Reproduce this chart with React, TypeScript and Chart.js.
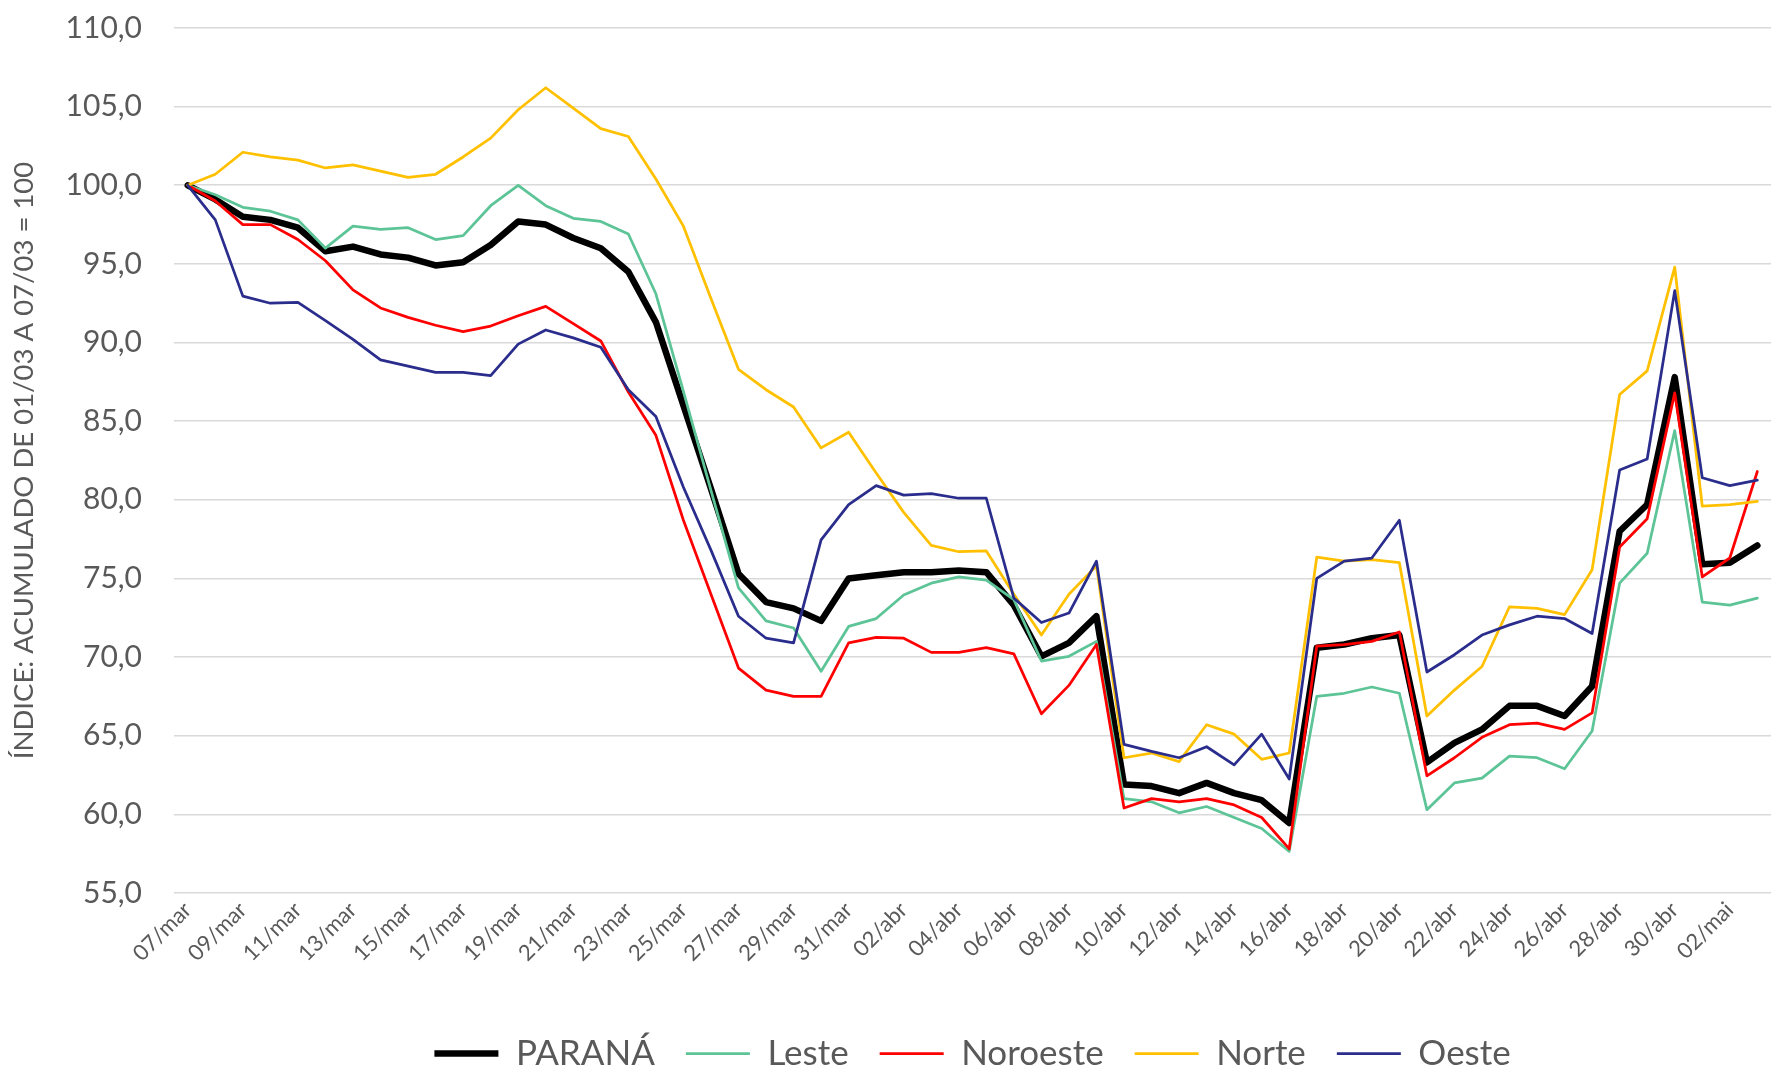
import React, { useEffect, useRef } from 'react';
import { Chart, registerables } from 'chart.js';

Chart.register(...registerables);

const dates = [
  '07/mar', '08/mar', '09/mar', '10/mar', '11/mar', '12/mar', '13/mar', '14/mar', '15/mar', '16/mar',
  '17/mar', '18/mar', '19/mar', '20/mar', '21/mar', '22/mar', '23/mar', '24/mar', '25/mar', '26/mar',
  '27/mar', '28/mar', '29/mar', '30/mar', '31/mar', '01/abr', '02/abr', '03/abr', '04/abr', '05/abr',
  '06/abr', '07/abr', '08/abr', '09/abr', '10/abr', '11/abr', '12/abr', '13/abr', '14/abr', '15/abr',
  '16/abr', '17/abr', '18/abr', '19/abr', '20/abr', '21/abr', '22/abr', '23/abr', '24/abr', '25/abr',
  '26/abr', '27/abr', '28/abr', '29/abr', '30/abr', '01/mai', '02/mai', '03/mai',
];

const parana = [
  100, 99.1, 98.0, 97.8, 97.3, 95.8, 96.1, 95.6, 95.4, 94.9,
  95.1, 96.2, 97.7, 97.5, 96.65, 96.0, 94.5, 91.3, 86.0, 80.7,
  75.3, 73.5, 73.1, 72.3, 75.0, 75.2, 75.4, 75.4, 75.5, 75.4,
  73.3, 70.05, 70.9, 72.6, 61.9, 61.8, 61.35, 62.0, 61.35, 60.9,
  59.45, 70.6, 70.8, 71.2, 71.4, 63.3, 64.55, 65.4, 66.9, 66.9,
  66.25, 68.15, 78.0, 79.7, 87.8, 75.9, 76.0, 77.1,
];

const leste = [
  100, 99.4, 98.6, 98.35, 97.8, 96.0, 97.4, 97.2, 97.3, 96.55,
  96.8, 98.7, 100.0, 98.7, 97.9, 97.7, 96.9, 93.1, 86.9, 80.6,
  74.4, 72.3, 71.85, 69.1, 71.95, 72.45, 73.95, 74.7, 75.1, 74.9,
  73.65, 69.75, 70.05, 71.0, 61.0, 60.8, 60.1, 60.5, 59.8, 59.1,
  57.65, 67.5, 67.7, 68.1, 67.7, 60.3, 62.0, 62.3, 63.7, 63.6,
  62.9, 65.3, 74.7, 76.6, 84.4, 73.5, 73.3, 73.75,
];

const noroeste = [
  100, 99.0, 97.5, 97.5, 96.55, 95.2, 93.35, 92.2, 91.6, 91.1,
  90.7, 91.05, 91.7, 92.3, 91.2, 90.1, 86.85, 84.1, 78.7, 74.0,
  69.3, 67.9, 67.5, 67.5, 70.9, 71.25, 71.2, 70.3, 70.3, 70.6,
  70.2, 66.4, 68.2, 70.8, 60.4, 61.0, 60.8, 61.0, 60.6, 59.8,
  57.8, 70.7, 70.8, 71.0, 71.6, 62.45, 63.6, 64.9, 65.7, 65.8,
  65.4, 66.45, 77.0, 78.8, 86.8, 75.1, 76.3, 81.8,
];

const norte = [
  100, 100.7, 102.1, 101.8, 101.6, 101.1, 101.3, 100.9, 100.5, 100.7,
  101.8, 103.0, 104.8, 106.2, 104.9, 103.6, 103.1, 100.4, 97.4, 92.8,
  88.3, 87.0, 85.9, 83.3, 84.3, 81.7, 79.2, 77.1, 76.7, 76.75,
  74.0, 71.4, 74.0, 75.8, 63.6, 63.9, 63.35, 65.7, 65.1, 63.5,
  63.9, 76.35, 76.1, 76.2, 76.0, 66.25, 67.9, 69.4, 73.2, 73.1,
  72.7, 75.55, 86.7, 88.2, 94.8, 79.6, 79.7, 79.9,
];

const oeste = [
  100, 97.8, 92.95, 92.5, 92.55, 91.4, 90.2, 88.9, 88.5, 88.1,
  88.1, 87.9, 89.9, 90.8, 90.3, 89.7, 87.0, 85.3, 80.8, 76.8,
  72.6, 71.2, 70.9, 77.45, 79.7, 80.9, 80.3, 80.4, 80.1, 80.1,
  73.75, 72.2, 72.8, 76.1, 64.45, 64.0, 63.6, 64.3, 63.15, 65.1,
  62.25, 75.0, 76.1, 76.3, 78.7, 69.05, 70.15, 71.4, 72.05, 72.6,
  72.45, 71.5, 81.9, 82.6, 93.3, 81.4, 80.9, 81.25,
];

const seriesNames = ['PARANÁ', 'Leste', 'Noroeste', 'Norte', 'Oeste'];
const seriesColors = ['#000000', '#5cc496', '#ff0000', '#ffc000', '#2a2d8c'];
const yTitle = 'ÍNDICE: ACUMULADO DE 01/03 A 07/03 = 100';

const FONT = 'Lato, "Open Sans", sans-serif';
const TEXT = '#595959';

export default function App() {
  const ref = useRef<HTMLCanvasElement>(null);

  useEffect(() => {
    const values = [parana, leste, noroeste, norte, oeste];
    const chart = new Chart(ref.current as HTMLCanvasElement, {
      type: 'line',
      data: {
        labels: dates,
        datasets: values.map((v, i) => ({
          label: seriesNames[i],
          data: v,
          borderColor: seriesColors[i],
          backgroundColor: seriesColors[i],
          borderWidth: i === 0 ? 6.5 : 2.75,
          pointRadius: 0,
          pointHoverRadius: 0,
          tension: 0,
          borderJoinStyle: 'round' as const,
          borderCapStyle: 'round' as const,
          fill: false,
          order: 5 - i,
        })),
      },
      options: {
        animation: false,
        responsive: false,
        maintainAspectRatio: false,
        layout: { padding: { left: 0, right: 0, top: 28, bottom: 0 } },
        plugins: {
          tooltip: { enabled: false },
          legend: {
            position: 'bottom',
            fullSize: false,
            labels: {
              usePointStyle: true,
              pointStyle: 'line',
              pointStyleWidth: 64,
              padding: 31,
              color: TEXT,
              font: { family: FONT, size: 35 },
              sort: (a: any, b: any) => a.datasetIndex - b.datasetIndex,
            },
          },
        },
        scales: {
          x: {
            type: 'category',
            offset: true,
            grid: { display: false, drawTicks: false },
            border: { display: false },
            ticks: {
              autoSkip: false,
              maxRotation: 45,
              minRotation: 45,
              padding: 4,
              color: TEXT,
              font: { family: FONT, size: 22 },
              callback: (_v: any, i: number) => (i % 2 === 0 ? dates[i] : ''),
            },
            afterFit: (s: any) => {
              s.height = 112;
            },
          },
          y: {
            min: 55,
            max: 110,
            ticks: {
              stepSize: 5,
              padding: 0,
              color: TEXT,
              font: { family: FONT, size: 30 },
              callback: (v: any) => Number(v).toFixed(1).replace('.', ','),
            },
            grid: {
              color: '#d9d9d9',
              lineWidth: 1.6,
              drawTicks: true,
              tickLength: 32,
              tickColor: 'rgba(0,0,0,0)',
            },
            border: { display: false },
            title: {
              display: true,
              text: yTitle,
              color: TEXT,
              font: { family: FONT, size: 27.5 },
              padding: { top: 8, bottom: 0 },
            },
            afterFit: (s: any) => {
              s.width = 174;
            },
          },
        },
      },
    });
    return () => chart.destroy();
  }, []);

  return (
    <div style={{ position: 'fixed', left: 0, top: 0, width: 1780, height: 1081, background: '#ffffff' }}>
      <canvas ref={ref} width={1780} height={1081} style={{ width: 1780, height: 1081, display: 'block' }} />
    </div>
  );
}
